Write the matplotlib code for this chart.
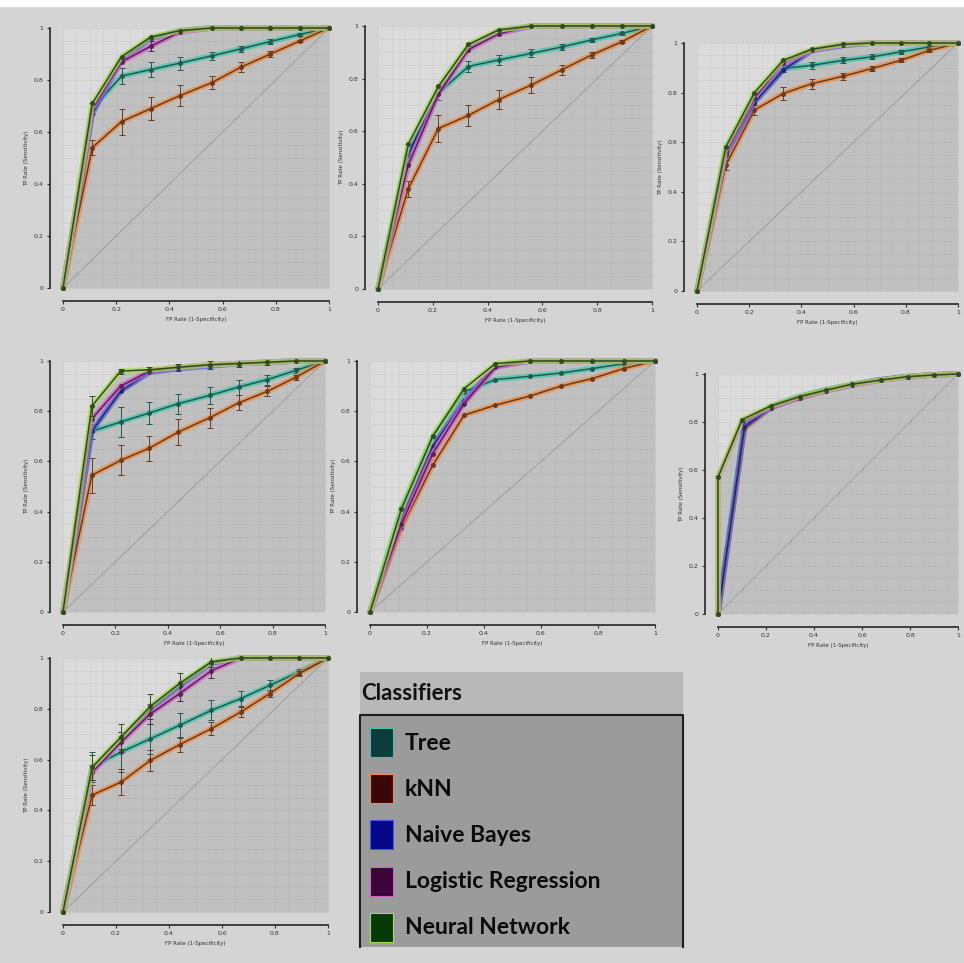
import numpy as np
import matplotlib
matplotlib.use('Agg')
from matplotlib import pyplot as plt
from matplotlib.patches import Rectangle

# FP rate points (threshold averaged curves)
fpr = [0, 0.11, 0.22, 0.33, 0.44, 0.56, 0.67, 0.78, 0.89, 1.0]
fpr6_nn = [0, 0, 0.10, 0.22, 0.34, 0.45, 0.56, 0.68, 0.79, 0.90, 1.0]

classifiers = ['Tree', 'kNN', 'Naive Bayes', 'Logistic Regression', 'Neural Network']
legend_colors = ['#0c3b3b', '#3a0606', '#06068a', '#3a063a', '#063a06']
halo_colors = ['#3cc8a8', '#f08a3c', '#4a5ae0', '#d060c8', '#a8dc50']
core_colors = ['#1f5a52', '#6b3a1c', '#20286a', '#5a2058', '#2f4a1f']

# panel 1
tree1 = [0, 0.69, 0.815, 0.84, 0.865, 0.893, 0.92, 0.948, 0.975, 1]
tree1_err = [0, 0.02, 0.03, 0.03, 0.025, 0.015, 0.012, 0.008, 0.005, 0]
knn1 = [0, 0.54, 0.64, 0.69, 0.74, 0.79, 0.85, 0.90, 0.95, 1]
knn1_err = [0, 0.03, 0.05, 0.045, 0.04, 0.025, 0.02, 0.01, 0.005, 0]
nb1 = [0, 0.67, 0.88, 0.96, 0.99, 1, 1, 1, 1, 1]
lr1 = [0, 0.69, 0.87, 0.93, 0.985, 1, 1, 1, 1, 1]
lr1_err = [0, 0, 0, 0.02, 0, 0, 0, 0, 0, 0]
nn1 = [0, 0.71, 0.89, 0.965, 0.99, 1, 1, 1, 1, 1]

# panel 2
tree2 = [0, 0.53, 0.745, 0.846, 0.871, 0.896, 0.92, 0.947, 0.972, 1]
tree2_err = [0, 0.02, 0.025, 0.02, 0.02, 0.015, 0.01, 0.008, 0.005, 0]
knn2 = [0, 0.38, 0.61, 0.66, 0.72, 0.776, 0.833, 0.89, 0.94, 1]
knn2_err = [0, 0.03, 0.05, 0.04, 0.035, 0.03, 0.02, 0.01, 0.005, 0]
nb2 = [0, 0.51, 0.75, 0.92, 0.98, 1, 1, 1, 1, 1]
lr2 = [0, 0.47, 0.74, 0.91, 0.97, 1, 1, 1, 1, 1]
nn2 = [0, 0.55, 0.77, 0.93, 0.985, 1, 1, 1, 1, 1]

# panel 3
tree3 = [0, 0.574, 0.783, 0.897, 0.91, 0.93, 0.944, 0.964, 0.984, 1]
tree3_err = [0, 0.01, 0.01, 0.015, 0.015, 0.012, 0.01, 0.008, 0.005, 0]
knn3 = [0, 0.507, 0.73, 0.796, 0.836, 0.866, 0.897, 0.93, 0.97, 1]
knn3_err = [0, 0.02, 0.02, 0.025, 0.02, 0.015, 0.01, 0.008, 0.005, 0]
nb3 = [0, 0.55, 0.76, 0.89, 0.97, 0.99, 1, 1, 1, 1]
lr3 = [0, 0.56, 0.78, 0.92, 0.97, 0.995, 1, 1, 1, 1]
nn3 = [0, 0.58, 0.80, 0.93, 0.975, 0.995, 1, 1, 1, 1]

# panel 4
tree4 = [0, 0.72, 0.757, 0.793, 0.83, 0.863, 0.896, 0.926, 0.963, 1]
tree4_err = [0, 0.03, 0.06, 0.045, 0.04, 0.035, 0.03, 0.02, 0.01, 0]
knn4 = [0, 0.545, 0.604, 0.653, 0.717, 0.774, 0.833, 0.879, 0.936, 1]
knn4_err = [0, 0.07, 0.06, 0.05, 0.05, 0.04, 0.03, 0.02, 0.01, 0]
nb4 = [0, 0.72, 0.88, 0.955, 0.97, 0.98, 0.99, 0.995, 1, 1]
lr4 = [0, 0.77, 0.90, 0.96, 0.975, 0.985, 0.99, 0.995, 1, 1]
nn4 = [0, 0.82, 0.96, 0.965, 0.975, 0.985, 0.99, 0.995, 1, 1]
nn4_err = [0, 0.04, 0.01, 0.01, 0.015, 0.015, 0.015, 0.01, 0, 0]

# panel 5
tree5 = [0, 0.413, 0.698, 0.877, 0.926, 0.939, 0.952, 0.97, 0.989, 1]
knn5 = [0, 0.334, 0.585, 0.784, 0.824, 0.86, 0.90, 0.93, 0.97, 1]
nb5 = [0, 0.37, 0.66, 0.84, 0.98, 1, 1, 1, 1, 1]
lr5 = [0, 0.35, 0.63, 0.83, 0.975, 1, 1, 1, 1, 1]
nn5 = [0, 0.41, 0.70, 0.89, 0.99, 1, 1, 1, 1, 1]

# panel 6
tree6 = [0, 0.79, 0.865, 0.905, 0.933, 0.958, 0.975, 0.989, 0.996, 1]
knn6 = [0, 0.77, 0.86, 0.90, 0.93, 0.955, 0.975, 0.988, 0.996, 1]
nb6 = [0, 0.78, 0.86, 0.90, 0.93, 0.956, 0.975, 0.988, 0.996, 1]
lr6 = [0, 0.57, 0.80, 0.862, 0.9, 0.93, 0.955, 0.974, 0.988, 0.996, 1]
nn6 = [0, 0.57, 0.81, 0.867, 0.906, 0.933, 0.958, 0.975, 0.989, 0.996, 1]

# panel 7
tree7 = [0, 0.571, 0.63, 0.682, 0.735, 0.794, 0.84, 0.892, 0.945, 1]
tree7_err = [0, 0.06, 0.08, 0.06, 0.05, 0.04, 0.03, 0.02, 0.01, 0]
knn7 = [0, 0.46, 0.512, 0.597, 0.659, 0.722, 0.787, 0.86, 0.938, 1]
knn7_err = [0, 0.04, 0.05, 0.04, 0.03, 0.025, 0.02, 0.015, 0.01, 0]
nb7 = [0, 0.56, 0.68, 0.80, 0.89, 0.98, 1, 1, 1, 1]
lr7 = [0, 0.55, 0.67, 0.78, 0.86, 0.95, 1, 1, 1, 1]
lr7_err = [0, 0.03, 0.04, 0.04, 0.03, 0.03, 0, 0, 0, 0]
nn7 = [0, 0.57, 0.69, 0.81, 0.90, 0.985, 1, 1, 1, 1]
nn7_err = [0, 0.05, 0.05, 0.05, 0.04, 0.02, 0, 0, 0, 0]

none = [0] * 10

panels = [
    # (x0, x1, ytop, ybottom) in pixels, curves in legend order
    ((63, 329, 28, 288), [(fpr, tree1, tree1_err), (fpr, knn1, knn1_err), (fpr, nb1, none),
                          (fpr, lr1, lr1_err), (fpr, nn1, none)]),
    ((378, 652, 26, 289), [(fpr, tree2, tree2_err), (fpr, knn2, knn2_err), (fpr, nb2, none),
                           (fpr, lr2, none), (fpr, nn2, none)]),
    ((697, 958, 43, 291), [(fpr, tree3, tree3_err), (fpr, knn3, knn3_err), (fpr, nb3, none),
                           (fpr, lr3, none), (fpr, nn3, none)]),
    ((63, 325, 361, 612), [(fpr, tree4, tree4_err), (fpr, knn4, knn4_err), (fpr, nb4, none),
                           (fpr, lr4, none), (fpr, nn4, nn4_err)]),
    ((370, 655, 361, 612), [(fpr, tree5, none), (fpr, knn5, none), (fpr, nb5, none),
                            (fpr, lr5, none), (fpr, nn5, none)]),
    ((718, 958, 374, 614), [(fpr, tree6, none), (fpr, knn6, none), (fpr, nb6, none),
                            (fpr6_nn, lr6, [0] * 11), (fpr6_nn, nn6, [0] * 11)]),
    ((63, 328, 658, 912), [(fpr, tree7, tree7_err), (fpr, knn7, knn7_err), (fpr, nb7, none),
                           (fpr, lr7, lr7_err), (fpr, nn7, nn7_err)]),
]

W, H = 964, 963
fig = plt.figure(figsize=(9.64, 9.63), dpi=100, facecolor='#d4d4d4')

# background canvas in pixel coords (legend panel, top strip)
bg = fig.add_axes([0, 0, 1, 1])
bg.set_xlim(0, W)
bg.set_ylim(H, 0)
bg.axis('off')
bg.add_patch(Rectangle((0, 0), W, 6, color='white'))

for box, curves in panels:
    x0, x1, yt, yb = box
    ax = fig.add_axes([x0 / W, 1 - yb / H, (x1 - x0) / W, (yb - yt) / H])
    ax.set_xlim(0, 1)
    ax.set_ylim(0, 1)
    ax.set_facecolor('#dbdbdb')

    # shaded area under the upper envelope of all curves
    grid = np.linspace(0, 1, 401)
    env = np.max([np.interp(grid, fx, y) for fx, y, e in curves], axis=0)
    ax.fill_between(grid, 0, env, color='#c0c0c0', lw=0, zorder=1)

    ax.set_xticks(np.arange(0, 1.01, 0.05), minor=True)
    ax.set_yticks(np.arange(0, 1.01, 0.05), minor=True)
    ax.grid(which='both', color='#8c8c8c', alpha=0.15, lw=0.6, zorder=2)
    ax.set_axisbelow(False)
    ax.plot([0, 1], [0, 1], color='#9a9a9a', lw=0.6, zorder=2)

    for i, (fx, y, err) in enumerate(curves):
        ax.plot(fx, y, color=halo_colors[i], lw=4, alpha=0.7, clip_on=False,
                solid_capstyle='round', zorder=3 + i)
        ax.plot(fx, y, color=core_colors[i], lw=1.1, marker='o', ms=2.5,
                clip_on=False, zorder=3.5 + i)
        ex = [a for a, e in zip(fx, err) if e > 0]
        ey = [b for b, e in zip(y, err) if e > 0]
        ee = [e for e in err if e > 0]
        if ee:
            ax.errorbar(ex, ey, yerr=ee, fmt='none', ecolor=core_colors[i],
                        elinewidth=0.7, capsize=2.5, capthick=0.7, zorder=3.6 + i)

    for s in ['top', 'right']:
        ax.spines[s].set_visible(False)
    for s in ['left', 'bottom']:
        ax.spines[s].set_position(('outward', 9.5))
        ax.spines[s].set_color('#333333')
        ax.spines[s].set_linewidth(1.3)
    ax.set_xticks([0, 0.2, 0.4, 0.6, 0.8, 1])
    ax.set_yticks([0, 0.2, 0.4, 0.6, 0.8, 1])
    ax.set_xticklabels(['0', '0.2', '0.4', '0.6', '0.8', '1'])
    ax.set_yticklabels(['0', '0.2', '0.4', '0.6', '0.8', '1'])
    ax.tick_params(which='major', labelsize=4.5, length=2.5, width=0.8,
                   colors='#333333', pad=2)
    ax.tick_params(which='minor', length=0)
    ax.set_xlabel('FP Rate (1-Specificity)', fontsize=4, labelpad=3, color='#333333')
    ax.set_ylabel('TP Rate (Sensitivity)', fontsize=4, labelpad=3, color='#333333')

# legend panel
font = ['Lato', 'DejaVu Sans']
bg.add_patch(Rectangle((360, 672), 323, 43, facecolor='#b8b8b8', edgecolor='none'))
bg.text(361, 694, 'Classifiers', fontsize=16, family=font, weight='bold', va='center',
        ha='left', color='#111111')
bg.add_patch(Rectangle((360, 715), 323, 232, facecolor='#9b9b9b', edgecolor='none'))
bg.plot([360, 360, 683, 683], [947, 715, 715, 947], color='#1e1e1e', lw=1.5)
for i, name in enumerate(classifiers):
    yc = 742 + i * 46.2
    bg.add_patch(Rectangle((370, yc - 14), 23, 29, facecolor=legend_colors[i],
                           edgecolor=halo_colors[i], lw=0.8))
    bg.text(405, yc + 1, name, fontsize=16.5, family=font, weight='bold', va='center',
            ha='left', color='#0a0a0a')

plt.savefig('out.png', dpi=100, facecolor=fig.get_facecolor())
